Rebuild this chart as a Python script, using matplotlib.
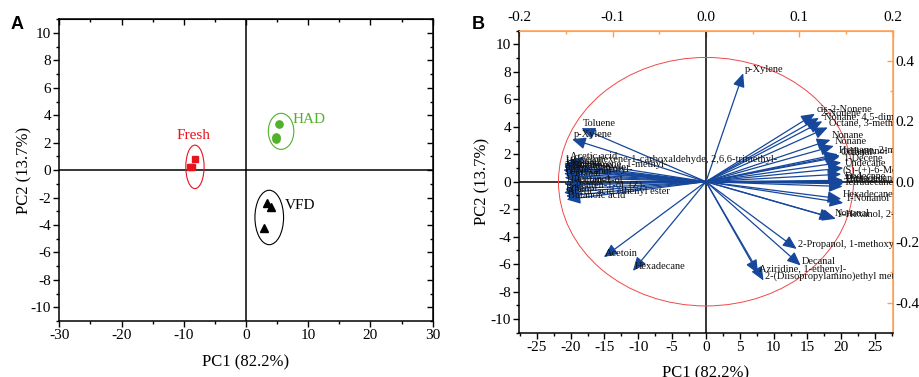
import matplotlib
matplotlib.use('Agg')
import matplotlib.pyplot as plt
from matplotlib.patches import Ellipse
from matplotlib.ticker import MultipleLocator, FormatStrFormatter
from matplotlib.transforms import offset_copy

plt.rcParams['font.family'] = ['Liberation Serif', 'DejaVu Serif']
plt.rcParams['axes.unicode_minus'] = False

# ---------------- Panel A: PCA scores ----------------
groups = ['Fresh', 'HAD', 'VFD']
fresh_pc1 = [-8.2, -8.6, -9.0]
fresh_pc2 = [0.78, 0.24, 0.20]
had_pc1 = [5.35, 4.87, 4.90]
had_pc2 = [3.37, 2.44, 2.30]
vfd_pc1 = [3.42, 4.10, 2.90]
vfd_pc2 = [-2.37, -2.70, -4.20]
# group ellipses: centre x, centre y, width, height
ell_cx = [-8.2, 5.64, 3.74]
ell_cy = [0.24, 2.83, -3.45]
ell_w = [2.94, 4.1, 4.6]
ell_h = [3.17, 2.63, 3.97]
# group label anchors
lab_x = [-8.45, 10.2, 8.7]
lab_y = [2.5, 3.7, -2.6]

# ---------------- Panel B: PCA loadings (scaled to score units) ----------------
loading_names = [
    # left cluster
    'Acetic acid', '1-Cyclohexene-1-carboxaldehyde, 2,6,6-trimethyl-', 'Hexanal', 'Heptanal',
    'Cyclohexene, 1-methyl-', '2-Butanone', 'Benzaldehyde', 'Furan, 2-pentyl-', '1-Hexanol',
    'Pentanal', '1-Pentanol', '1-Octen-3-ol', '2-Penten-1-ol, (Z)-', 'Ethanol',
    'Acetic acid ethenyl ester', 'Butanoic acid',
    # upper left / top
    'Toluene', 'p-Xylene', 'p-Xylene',
    # right cluster
    'cis-2-Nonene', '2-Nonene', 'Nonane, 4,5-dimethyl-', 'Octane, 3-methyl-', 'Nonane', 'Nonane',
    'Heptane, 2-methyl-', '1-Heptanol', 'Octanal', '1-Decene', 'Undecane',
    '(S)-(+)-6-Methyl-1-octanol', 'Pentadecane', 'Dodecane', 'Tridecane', 'Tetradecane',
    'Hexadecane', '1-Nonanol', 'Nonanal', '1-Hexanol, 2-ethyl-',
    # lower
    '2-Propanol, 1-methoxy-', 'Decanal', 'Aziridine, 1-ethenyl-',
    '2-(Diisopropylamino)ethyl methacrylate', 'Acetoin', 'Hexadecane',
]
loading_pc1 = [
    -20.3, -21.0, -21.0, -20.9, -20.8, -21.1, -20.7, -21.0, -20.6, -20.9,
    -21.0, -20.4, -20.8, -21.0, -20.7, -20.6,
    -18.4, -19.8, 5.5,
    16.1, 16.7, 17.2, 18.0, 18.4, 18.9, 19.5, 19.8, 19.7, 20.0, 20.3,
    20.0, 20.4, 20.3, 20.3, 20.2, 20.0, 20.3, 18.8, 19.2,
    13.4, 14.0, 7.7, 8.5, -15.1, -10.8,
]
loading_pc2 = [
    1.55, 1.30, 1.15, 1.05, 0.95, 0.85, 0.75, 0.60, 0.45, 0.30,
    -0.15, -0.25, -0.55, -0.80, -1.05, -1.30,
    3.90, 3.10, 7.90,
    4.95, 4.65, 4.40, 3.95, 3.05, 2.60, 2.00, 1.90, 1.80, 1.40, 1.00,
    0.55, -0.05, 0.10, -0.15, -0.35, -1.25, -1.55, -2.65, -2.70,
    -4.90, -6.10, -6.70, -7.20, -5.50, -6.50,
]
circle_rx = 21.8
circle_ry = 9.05

RED = '#e8141c'
GREEN = '#52b02a'
BLUE = '#16479b'
ORANGE = '#ffa050'

fig = plt.figure(figsize=(9.19, 3.77), dpi=100)

# ===== Panel A =====
axA = fig.add_axes([0.0645, 0.1485, 0.4063, 0.8003])
axA.set_xlim(-30, 30)
axA.set_ylim(-11, 11)
axA.axhline(0, color='black', lw=1.1, zorder=1)
axA.axvline(0, color='black', lw=1.1, zorder=1)
axA.plot(fresh_pc1, fresh_pc2, 's', color=RED, ms=4.8, zorder=3)
axA.plot(had_pc1, had_pc2, 'o', color=GREEN, ms=5.2, zorder=3)
axA.plot(vfd_pc1, vfd_pc2, '^', color='black', ms=5.2, zorder=3)
ell_colors = [RED, GREEN, 'black']
for cx, cy, w, h, c in zip(ell_cx, ell_cy, ell_w, ell_h, ell_colors):
    axA.add_patch(Ellipse((cx, cy), w, h, fill=False, edgecolor=c, lw=0.8, zorder=2))
for g, x, y, c in zip(groups, lab_x, lab_y, ell_colors):
    axA.text(x, y, g, color=c, fontsize=11, ha='center', va='center')

axA.xaxis.set_major_locator(MultipleLocator(10))
axA.xaxis.set_minor_locator(MultipleLocator(5))
axA.yaxis.set_major_locator(MultipleLocator(2))
axA.yaxis.set_minor_locator(MultipleLocator(1))
axA.tick_params(which='major', direction='out', length=4, width=1, labelsize=11, pad=2)
axA.tick_params(which='minor', direction='out', length=2.5, width=1)
for s in axA.spines.values():
    s.set_linewidth(1.1)
secAx = axA.secondary_xaxis('top')
secAx.xaxis.set_major_locator(MultipleLocator(10))
secAx.xaxis.set_minor_locator(MultipleLocator(5))
secAx.tick_params(which='major', direction='in', length=4, width=1, labeltop=False)
secAx.tick_params(which='minor', direction='in', length=2.5, width=1)
secAy = axA.secondary_yaxis('right')
secAy.yaxis.set_major_locator(MultipleLocator(2))
secAy.yaxis.set_minor_locator(MultipleLocator(1))
secAy.tick_params(which='major', direction='in', length=4, width=1, labelright=False)
secAy.tick_params(which='minor', direction='in', length=2.5, width=1)
axA.set_xlabel('PC1 (82.2%)', fontsize=12, labelpad=9)
axA.set_ylabel('PC2 (13.7%)', fontsize=12, labelpad=-1)
fig.text(0.012, 0.935, 'A', fontsize=13, fontweight='bold', family='Liberation Sans', va='center')

# ===== Panel B =====
axB = fig.add_axes([0.565, 0.1175, 0.4064, 0.8011])
XL = 27.6
axB.set_xlim(-XL, XL)
axB.set_ylim(-11, 11)
axB.axhline(0, color='black', lw=1.1, zorder=1)
axB.axvline(0, color='black', lw=1.1, zorder=1)
axB.add_patch(Ellipse((0, 0), 2 * circle_rx, 2 * circle_ry, fill=False,
                      edgecolor='#f04848', lw=0.7, zorder=1))
label_tr = offset_copy(axB.transData, fig=fig, x=1, y=3, units='points')
for name, x, y in zip(loading_names, loading_pc1, loading_pc2):
    axB.annotate('', xy=(x, y), xytext=(0, 0), xycoords='data', textcoords='data',
                 arrowprops=dict(arrowstyle='-|>,head_length=0.55,head_width=0.24',
                                 color=BLUE, lw=0.9, mutation_scale=15,
                                 shrinkA=0, shrinkB=0), zorder=3)
    t = axB.text(x, y, name, transform=label_tr, fontsize=7.5, ha='left', va='center',
                 color='#111111', zorder=4, clip_on=True)
    t.set_clip_path(axB.patch)

axB.xaxis.set_major_locator(MultipleLocator(5))
axB.xaxis.set_minor_locator(MultipleLocator(2.5))
axB.yaxis.set_major_locator(MultipleLocator(2))
axB.yaxis.set_minor_locator(MultipleLocator(1))
axB.tick_params(which='major', direction='out', length=4, width=1, labelsize=11, pad=2)
axB.tick_params(which='minor', direction='out', length=2.5, width=1)
axB.spines['left'].set_linewidth(1.1)
axB.spines['bottom'].set_linewidth(1.1)
axB.spines['top'].set_color(ORANGE)
axB.spines['right'].set_color(ORANGE)
kx = 0.2 / XL
ky = 0.5 / 11
topB = axB.secondary_xaxis('top', functions=(lambda v: v * kx, lambda v: v / kx))
topB.xaxis.set_major_locator(MultipleLocator(0.1))
topB.xaxis.set_minor_locator(MultipleLocator(0.05))
topB.xaxis.set_major_formatter(FormatStrFormatter('%.1f'))
topB.tick_params(which='major', direction='in', length=4, width=1, color=ORANGE, labelsize=11, pad=5)
topB.tick_params(which='minor', direction='in', length=2.5, width=1, color=ORANGE)
topB.spines['top'].set_color(ORANGE)
topB.spines['top'].set_linewidth(1.1)
rightB = axB.secondary_yaxis('right', functions=(lambda v: v * ky, lambda v: v / ky))
rightB.yaxis.set_major_locator(MultipleLocator(0.2))
rightB.yaxis.set_minor_locator(MultipleLocator(0.1))
rightB.yaxis.set_major_formatter(FormatStrFormatter('%.1f'))
rightB.tick_params(which='major', direction='in', length=4, width=1, color=ORANGE, labelsize=11, pad=2)
rightB.tick_params(which='minor', direction='in', length=2.5, width=1, color=ORANGE)
rightB.spines['right'].set_color(ORANGE)
rightB.spines['right'].set_linewidth(1.1)
axB.set_xlabel('PC1 (82.2%)', fontsize=12, labelpad=8)
axB.set_ylabel('PC2 (13.7%)', fontsize=12, labelpad=0)
fig.text(0.513, 0.935, 'B', fontsize=13, fontweight='bold', family='Liberation Sans', va='center')

fig.savefig('out.png', dpi=100)
